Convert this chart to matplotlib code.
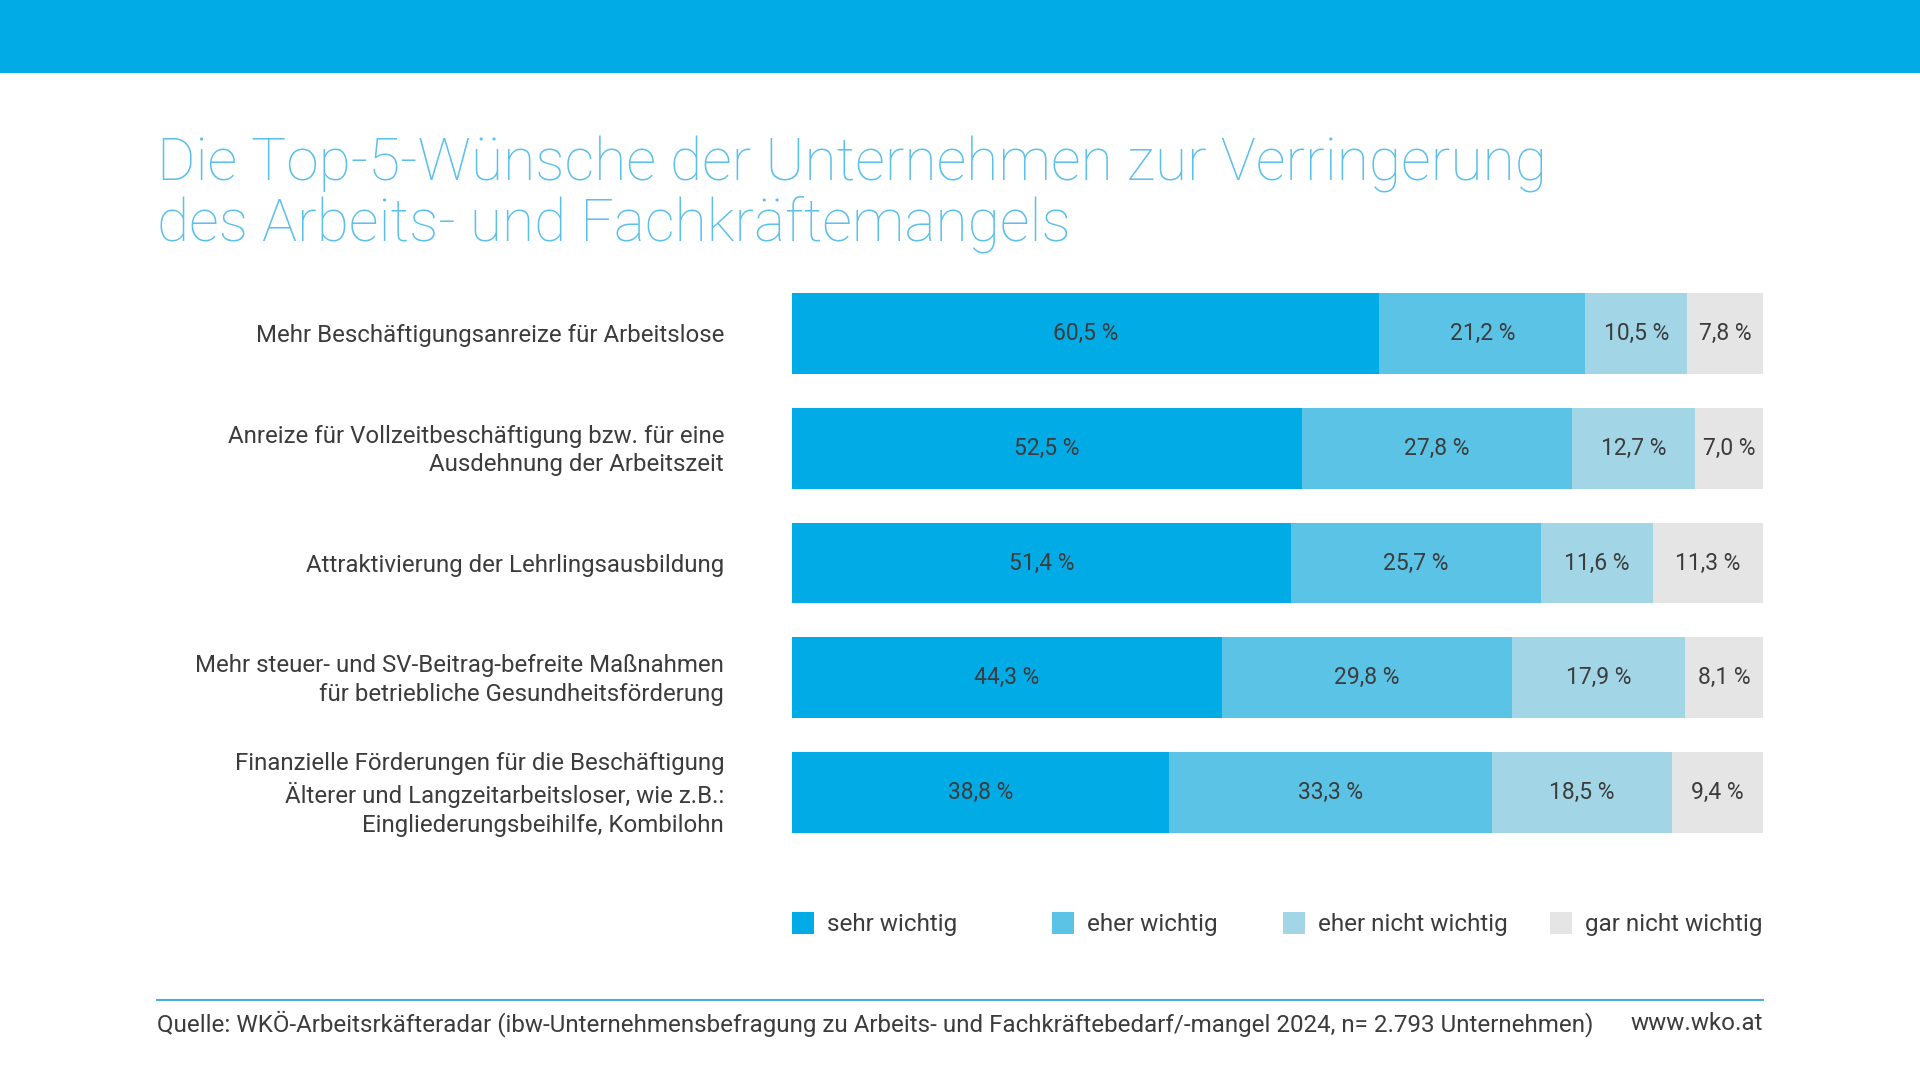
import matplotlib
matplotlib.use("Agg")
import matplotlib.pyplot as plt
from matplotlib.patches import Rectangle

plt.rcParams['font.family'] = ['Roboto', 'DejaVu Sans']

# data
items = [
    "Mehr Beschäftigungsanreize für Arbeitslose",
    "Anreize für Vollzeitbeschäftigung bzw. für eine\nAusdehnung der Arbeitszeit",
    "Attraktivierung der Lehrlingsausbildung",
    "Mehr steuer- und SV-Beitrag-befreite Maßnahmen\nfür betriebliche Gesundheitsförderung",
    "Finanzielle Förderungen für die Beschäftigung\nÄlterer und Langzeitarbeitsloser, wie z.B.:\nEingliederungsbeihilfe, Kombilohn",
]
sehr_wichtig = [60.5, 52.5, 51.4, 44.3, 38.8]
eher_wichtig = [21.2, 27.8, 25.7, 29.8, 33.3]
eher_nicht_wichtig = [10.5, 12.7, 11.6, 17.9, 18.5]
gar_nicht_wichtig = [7.8, 7.0, 11.3, 8.1, 9.4]
series_names = ["sehr wichtig", "eher wichtig", "eher nicht wichtig", "gar nicht wichtig"]
colors = ["#00abe6", "#5bc3e6", "#a2d6e6", "#e5e5e5"]

title = "Die Top-5-Wünsche der Unternehmen zur Verringerung\ndes Arbeits- und Fachkräftemangels"
source = ("Quelle: WKÖ-Arbeitsrkäfteradar (ibw-Unternehmensbefragung zu Arbeits- und "
          "Fachkräftebedarf/-mangel 2024, n= 2.793 Unternehmen)")
site = "www.wko.at"

W, H = 1920, 1080
TXT = "#3c3c3c"
fig = plt.figure(figsize=(19.2, 10.8), dpi=100)
fig.patch.set_facecolor("white")

# top band
fig.add_artist(Rectangle((0, 1 - 73 / H), 1, 73 / H, transform=fig.transFigure,
                         facecolor="#00abe6", edgecolor="none"))

fig.text(157 / W, 1 - 136 / H, title, color="#5bc0eb", fontsize=42.3, fontweight="light",
         va="top", ha="left", linespacing=1.05)

# bars
ax = fig.add_axes([792 / W, 1 - 833 / H, (1763 - 792) / W, 540 / H])
ypos = list(range(len(items)))
left = [0] * len(items)
for vals, col, name in zip([sehr_wichtig, eher_wichtig, eher_nicht_wichtig, gar_nicht_wichtig],
                           colors, series_names):
    ax.barh(ypos, vals, left=left, height=0.705, color=col, edgecolor="none", label=name)
    for y, l, v in zip(ypos, left, vals):
        ax.text(l + v / 2, y, f"{v:.1f} %".replace(".", ","), ha="center", va="center",
                fontsize=16.5, color=TXT)
    left = [a + b for a, b in zip(left, vals)]

ax.set_xlim(0, 100)
ax.set_ylim(4.3525, -0.3525)
ax.axis("off")

for y, lab in zip(ypos, items):
    ax.text(-0.07, y + 0.02, lab, transform=ax.get_yaxis_transform(), ha="right", va="center",
            fontsize=17.3, color=TXT, linespacing=1.33, multialignment="right")

# legend
leg_x = [792, 1052, 1283, 1550]
for x, col, name in zip(leg_x, colors, series_names):
    fig.add_artist(Rectangle((x / W, 1 - 934 / H), 22 / W, 22 / H, transform=fig.transFigure,
                             facecolor=col, edgecolor="none"))
    fig.text((x + 35) / W, 1 - 925 / H, name, fontsize=17.5, color=TXT,
             va="center", ha="left")

# footer
fig.add_artist(plt.Line2D([157 / W, 1763 / W], [1 - 1000 / H, 1 - 1000 / H],
                          transform=fig.transFigure, color="#4aaed8", lw=1.5))
fig.text(157 / W, 1 - 1024 / H, source, fontsize=17.4, color=TXT,
         va="center", ha="left")
fig.text(1763 / W, 1 - 1024 / H, site, fontsize=17.4, color=TXT,
         va="center", ha="right")

fig.savefig("out.png", dpi=100)
